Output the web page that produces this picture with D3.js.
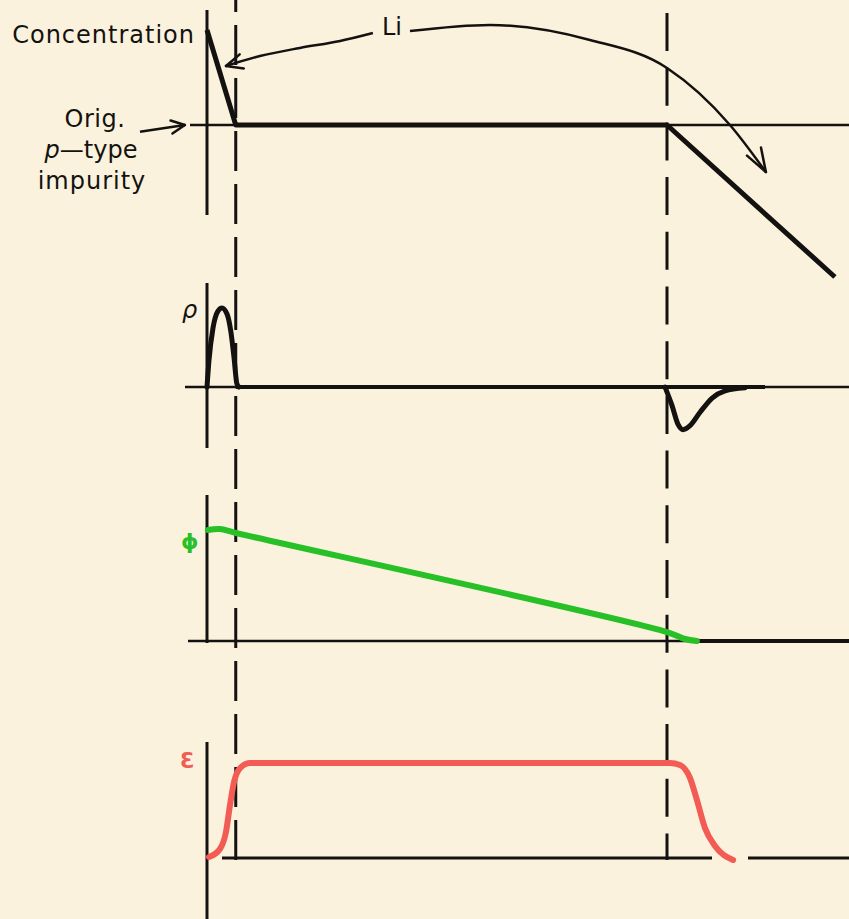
<!DOCTYPE html>
<html><head><meta charset="utf-8">
<script src="https://cdn.jsdelivr.net/npm/d3@7"></script>
<style>
html,body{margin:0;padding:0;background:#fbf2dd;}
svg{display:block;}
</style></head><body>
<script>
// ---- data (depth in arbitrary units: surface = 0) ----
const junctionDepths = [0.1, 1.6];

// Li concentration profile relative to the original p-type level (0)
const concDepth = [0, 0.1, 1.6, 2.184];
const concValue = [1.0, 0, 0, -1.6];

// space charge density rho
const rhoPosDepth = [0, 0.007, 0.021, 0.038, 0.052, 0.07, 0.083, 0.094, 0.104, 0.111];
const rhoPosValue = [0, 0.34, 0.75, 0.96, 1, 0.92, 0.70, 0.37, 0.04, 0];
const rhoNegDepth = [1.593, 1.617, 1.638, 1.656, 1.680, 1.715, 1.757, 1.802, 1.871];
const rhoNegValue = [0, -0.23, -0.47, -0.54, -0.49, -0.32, -0.14, -0.05, -0.01];

// potential phi
const phiDepth = [0.003, 0.045, 0.101, 1.6, 1.663, 1.704];
const phiValue = [1.0, 1.009, 0.973, 0.081, 0.018, 0];

// field E
const fieldDepth = [0.007, 0.045, 0.066, 0.080, 0.094, 0.115, 0.150, 1.610, 1.645, 1.680, 1.704, 1.732, 1.767, 1.830];
const fieldValue = [0.01, 0.095, 0.274, 0.558, 0.8, 0.947, 1, 1, 0.979, 0.842, 0.611, 0.316, 0.126, -0.021];

// Li drift annotation paths (concentration panel units)
const liLeftDepth = [0.066, 0.184, 0.323, 0.463, 0.577];
const liLeftValue = [0.621, 0.726, 0.811, 0.884, 0.968];
const liRightDepth = [0.706, 0.984, 1.332, 1.6, 1.819, 1.944];
const liRightValue = [0.989, 1.053, 0.895, 0.6, 0, -0.495];
const origArrowDepth = [-0.233, -0.077];
const origArrowValue = [-0.07, 0.0];

// ---- layout ----
const W = 849, H = 919;
const INK = "#141210", GREEN = "#27c027", RED = "#f25c55";

const svg = d3.select("body").append("svg").attr("width", W).attr("height", H);
svg.append("rect").attr("width", W).attr("height", H).attr("fill", "#fbf2dd");

const x = d3.scaleLinear().domain([0, 1.6]).range([207, 667]);
const yPanel = (base, unit) => d3.scaleLinear().domain([0, 1]).range([base, base - unit]);
const yConc = yPanel(125, 95);
const yRho = yPanel(387, 79);
const yPhi = yPanel(641, 111);
const yField = yPanel(858, 95);

const line = (xs, ys, ysc, curve) => d3.line()
  .x(i => x(xs[i])).y(i => ysc(ys[i])).curve(curve || d3.curveLinear)(d3.range(xs.length));

function seg(x1, y1, x2, y2, w, extra) {
  const l = svg.append("line").attr("x1", x1).attr("y1", y1).attr("x2", x2).attr("y2", y2)
    .attr("stroke", INK).attr("stroke-width", w).attr("stroke-linecap", "butt");
  if (extra) extra(l);
  return l;
}

// vertical axis pieces at the surface
[[10, 215], [283, 448], [495, 643], [742, 919]].forEach(([a, b]) => seg(x(0), a, x(0), b, 3));

// dashed depth markers
seg(x(junctionDepths[0]), 0, x(junctionDepths[0]), 860, 3,
  l => l.attr("stroke-dasharray", "40,13").attr("stroke-dashoffset", 28));
seg(x(junctionDepths[1]), 13, x(junctionDepths[1]), 860, 3,
  l => l.attr("stroke-dasharray", "38,16.7"));

// baselines
seg(190, yConc(0), W, yConc(0), 2.5);
seg(185, yRho(0), W, yRho(0), 2.5);
seg(x(0.1), yRho(0), 765, yRho(0), 4);
seg(188, yPhi(0), W, yPhi(0), 2.5);
seg(693, yPhi(0), W, yPhi(0), 4);
seg(222, yField(0), 712, yField(0), 3);
seg(748, yField(0), W, yField(0), 3);

// concentration profile
svg.append("path").attr("d", line(concDepth, concValue, yConc))
  .attr("fill", "none").attr("stroke", INK).attr("stroke-width", 5).attr("stroke-linejoin", "round");

// rho
[[rhoPosDepth, rhoPosValue], [rhoNegDepth, rhoNegValue]].forEach(([d, v]) =>
  svg.append("path").attr("d", line(d, v, yRho, d3.curveMonotoneX))
    .attr("fill", "none").attr("stroke", INK).attr("stroke-width", 5).attr("stroke-linecap", "round"));

// phi
svg.append("path").attr("d", line(phiDepth, phiValue, yPhi, d3.curveCatmullRom))
  .attr("fill", "none").attr("stroke", GREEN).attr("stroke-width", 6).attr("stroke-linecap", "round");

// field
svg.append("path").attr("d", line(fieldDepth, fieldValue, yField, d3.curveMonotoneX))
  .attr("fill", "none").attr("stroke", RED).attr("stroke-width", 6).attr("stroke-linecap", "round");

// open arrowhead at (tx,ty) pointing along angle ang
function arrowHead(tx, ty, ang, len, half, w) {
  [-half, half].forEach(h => {
    const a = ang + Math.PI + h;
    seg(tx, ty, tx + len * Math.cos(a), ty + len * Math.sin(a), w, l => l.attr("stroke-linecap", "round"));
  });
}

// Li annotation
svg.append("path").attr("d", line(liLeftDepth, liLeftValue, yConc, d3.curveMonotoneX))
  .attr("fill", "none").attr("stroke", INK).attr("stroke-width", 2.5);
arrowHead(x(liLeftDepth[0]), yConc(liLeftValue[0]),
  Math.atan2(yConc(liLeftValue[0]) - yConc(liLeftValue[1]), x(liLeftDepth[0]) - x(liLeftDepth[1])), 18, 0.42, 2.5);
svg.append("path").attr("d", line(liRightDepth, liRightValue, yConc, d3.curveMonotoneX))
  .attr("fill", "none").attr("stroke", INK).attr("stroke-width", 2.5);
arrowHead(x(liRightDepth[5]), yConc(liRightValue[5]), Math.atan2(24, 14), 25, 0.33, 2.5);

// original p-type arrow
svg.append("path").attr("d", line(origArrowDepth, origArrowValue, yConc))
  .attr("fill", "none").attr("stroke", INK).attr("stroke-width", 2.5);
arrowHead(x(origArrowDepth[1]), yConc(origArrowValue[1]),
  Math.atan2(yConc(origArrowValue[1]) - yConc(origArrowValue[0]), x(origArrowDepth[1]) - x(origArrowDepth[0])), 15, 0.45, 2.5);

// labels
const txt = (s, tx, ty, opts) => {
  const t = svg.append("text").attr("x", tx).attr("y", ty)
    .attr("font-family", "DejaVu Sans, sans-serif").attr("font-size", 24).attr("fill", INK).text(s);
  if (opts) opts(t);
  return t;
};
txt("Concentration", 195, 43, t => t.attr("text-anchor", "end").attr("letter-spacing", 1));
txt("Li", 382, 35);
txt("Orig.", 95, 127, t => t.attr("text-anchor", "middle").attr("letter-spacing", 0.5));
const pt = txt("", 91, 158, t => t.attr("text-anchor", "middle"));
pt.append("tspan").attr("font-style", "italic").text("p");
pt.append("tspan").text("\u2014type");
txt("impurity", 92, 189, t => t.attr("text-anchor", "middle").attr("letter-spacing", 1));
txt("\u03c1", 182, 318, t => t.attr("font-size", 24).attr("font-style", "italic"));
txt("\u03d5", 181, 549, t => t.attr("font-size", 22).attr("fill", GREEN).attr("font-weight", "bold"));
txt("\u0190", 180, 768, t => t.attr("font-size", 21).attr("fill", RED).attr("font-weight", "bold"));
</script>
</body></html>
